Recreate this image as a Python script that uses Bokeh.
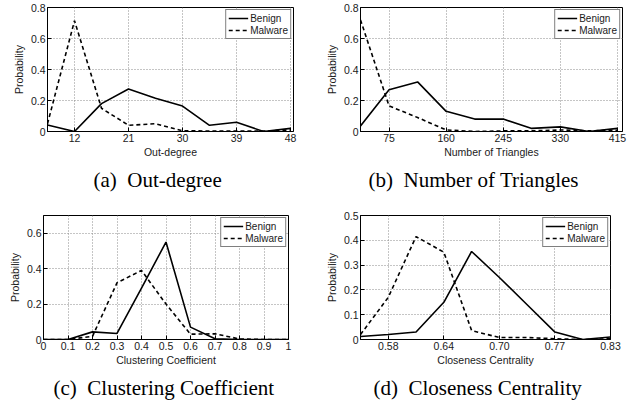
from bokeh.plotting import figure
from bokeh.layouts import column, row
from bokeh.models import Range1d, FixedTicker, Title
from bokeh.embed import file_html
from bokeh.resources import INLINE

# ---------------- data ----------------
# (a) Out-degree
od_x = [7.5, 12, 16.5, 21, 25.5, 30, 34.5, 39, 43.5, 48]
od_benign = [0.042, 0.0, 0.18, 0.274, 0.215, 0.164, 0.04, 0.06, 0.0, 0.02]
od_malware = [0.05, 0.715, 0.15, 0.04, 0.05, 0.005, 0.003, 0.003, 0.003, 0.01]
od_xticks = [12, 21, 30, 39, 48]
od_xlabels = ["12", "21", "30", "39", "48"]

# (b) Number of Triangles
nt_x = [32.5, 75, 117.5, 160, 202.5, 245, 287.5, 330, 372.5, 415]
nt_benign = [0.036, 0.27, 0.32, 0.13, 0.08, 0.08, 0.02, 0.03, 0.0, 0.02]
nt_malware = [0.72, 0.165, 0.09, 0.01, 0.0, 0.004, 0.004, 0.01, 0.004, 0.008]
nt_xticks = [75, 160, 245, 330, 415]
nt_xlabels = ["75", "160", "245", "330", "415"]

# (c) Clustering Coefficient
cc_x = [0.0, 0.1, 0.2, 0.3, 0.4, 0.5, 0.6, 0.7, 0.8, 0.9, 1.0]
cc_benign = [0.0, 0.0, 0.043, 0.034, 0.29, 0.55, 0.07, 0.004, 0.0, 0.0, 0.0]
cc_malware = [0.0, 0.0, 0.018, 0.32, 0.39, 0.2, 0.03, 0.032, 0.003, 0.0, 0.0]
cc_xticks = [0.0, 0.1, 0.2, 0.3, 0.4, 0.5, 0.6, 0.7, 0.8, 0.9, 1.0]
cc_xlabels = ["0", "0.1", "0.2", "0.3", "0.4", "0.5", "0.6", "0.7", "0.8", "0.9", "1"]

# (d) Closeness Centrality
cl_x = [0.550, 0.581, 0.612, 0.643, 0.674, 0.705, 0.736, 0.767, 0.798, 0.829]
cl_benign = [0.012, 0.02, 0.03, 0.15, 0.355, 0.25, 0.14, 0.03, 0.0, 0.01]
cl_malware = [0.02, 0.17, 0.415, 0.352, 0.036, 0.008, 0.008, 0.003, 0.0, 0.003]
cl_xticks = [0.581, 0.643, 0.705, 0.767, 0.829]
cl_xlabels = ["0.58", "0.64", "0.70", "0.77", "0.83"]

y8_ticks = [0, 0.2, 0.4, 0.6, 0.8]
y8_labels = ["0", "0.2", "0.4", "0.6", "0.8"]
y6_ticks = [0, 0.2, 0.4, 0.6]
y6_labels = ["0", "0.2", "0.4", "0.6"]
y5_ticks = [0, 0.1, 0.2, 0.3, 0.4, 0.5]
y5_labels = ["0", "0.1", "0.2", "0.3", "0.4", "0.5"]

SANS = "Liberation Sans"
SERIF = "Liberation Serif"
INK = "#1a1a1a"


def panel(x, benign, malware, xr, yr, xt, xl, yt, yl, xlabel, caption,
          width, height, bl, br, bt, bb, cap_off):
    p = figure(width=width, height=height, output_backend="svg",
               toolbar_location=None, x_range=Range1d(*xr), y_range=Range1d(*yr),
               min_border_left=bl, min_border_right=br,
               min_border_top=bt, min_border_bottom=bb)
    p.background_fill_color = "white"
    p.border_fill_color = "white"
    p.outline_line_color = "black"
    p.outline_line_width = 1
    p.outline_line_alpha = 1

    p.line(x, benign, line_color="black", line_width=1.6, legend_label="Benign")
    p.line(x, malware, line_color="black", line_width=1.6, line_dash="4 3",
           legend_label="Malware")

    p.xaxis.ticker = FixedTicker(ticks=xt)
    p.xaxis.major_label_overrides = dict(zip(xt, xl))
    p.yaxis.ticker = FixedTicker(ticks=yt)
    p.yaxis.major_label_overrides = dict(zip(yt, yl))
    p.xaxis.axis_label = xlabel
    p.yaxis.axis_label = "Probability"
    for ax in (p.xaxis, p.yaxis):
        ax.axis_line_color = "black"
        ax.major_tick_in = 4
        ax.major_tick_out = 0
        ax.minor_tick_line_color = None
        ax.major_tick_line_color = "black"
        ax.major_label_text_font = SANS
        ax.major_label_text_font_size = "10.5px"
        ax.major_label_text_color = INK
        ax.axis_label_text_font = SANS
        ax.axis_label_text_font_size = "10.5px"
        ax.axis_label_text_font_style = "normal"
        ax.axis_label_text_color = INK
        ax.major_label_standoff = 2
    p.xaxis.axis_label_standoff = 1
    p.yaxis.axis_label_standoff = 3

    p.grid.grid_line_color = "#8a8a8a"
    p.grid.grid_line_dash = "1 2"
    p.grid.grid_line_width = 1

    lg = p.legend[0]
    lg.location = "top_right"
    lg.margin = 2
    lg.padding = 2
    lg.spacing = 0
    lg.glyph_width = 20
    lg.glyph_height = 12
    lg.label_height = 12
    lg.label_standoff = 2
    lg.label_text_font = SANS
    lg.label_text_font_size = "10px"
    lg.label_text_color = INK
    lg.border_line_color = "black"
    lg.border_line_width = 1
    lg.background_fill_alpha = 1

    p.add_layout(Title(text=caption, align="left", offset=cap_off,
                       text_font=SERIF, text_font_size="21px",
                       text_font_style="normal", text_color="black"), "below")
    return p


pa = panel(od_x, od_benign, od_malware, (7.5, 48.5), (0, 0.8), od_xticks, od_xlabels,
           y8_ticks, y8_labels, "Out-degree", "(a) \u00a0Out-degree",
           322, 200, 47, 29, 7, 67, 46)
pb = panel(nt_x, nt_benign, nt_malware, (32.5, 422.5), (0, 0.8), nt_xticks, nt_xlabels,
           y8_ticks, y8_labels, "Number of Triangles", "(b) \u00a0Number of Triangles",
           322, 200, 37, 22, 6, 69, 8)
pc = panel(cc_x, cc_benign, cc_malware, (0, 1), (0, 0.7), cc_xticks, cc_xlabels,
           y6_ticks, y6_labels, "Clustering Coefficient", "(c) \u00a0Clustering Coefficient",
           322, 209, 43, 34, 10, 69, 10)
pd = panel(cl_x, cl_benign, cl_malware, (0.550, 0.829), (0, 0.5), cl_xticks, cl_xlabels,
           y5_ticks, y5_labels, "Closeness Centrality", "(d) \u00a0Closeness Centrality",
           322, 209, 32, 34, 15, 70, 13)

layout = column(row(pa, pb), row(pc, pd))
open("out.html", "w").write(file_html(layout, INLINE))
